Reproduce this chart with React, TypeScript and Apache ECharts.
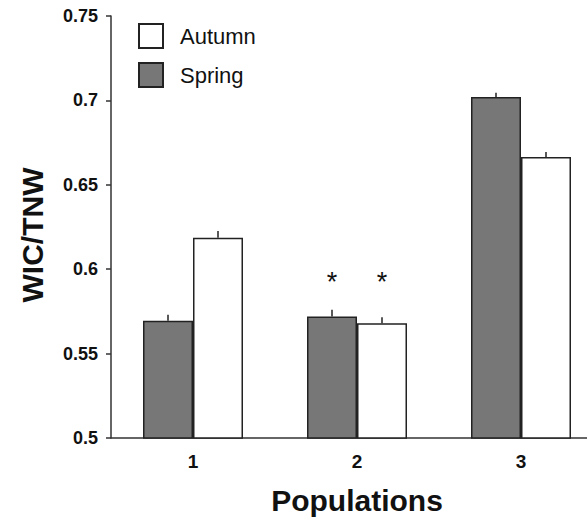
import React, { useEffect, useRef } from "react";
import * as echarts from "echarts";

const categories = ["1", "2", "3"];
const springValues = [0.5695, 0.572, 0.702];
const autumnValues = [0.6186, 0.568, 0.6665];
const springErrors = [0.0035, 0.004, 0.0025];
const autumnErrors = [0.004, 0.0035, 0.003];
const springMarks = ["", "*", ""];
const autumnMarks = ["", "*", ""];
const markLevel = 0.5945;
const yTicks = { min: 0.5, max: 0.75, interval: 0.05 };

const FONT = "'Liberation Sans', Arial, Helvetica, sans-serif";
const BAR_W = 50;

export default function App() {
  const ref = useRef<HTMLDivElement>(null);
  useEffect(() => {
    if (!ref.current) return;
    const chart = echarts.init(ref.current, undefined, { renderer: "svg" });

    const errRender = (vals: number[], errs: number[], marks: string[], offset: number) =>
      (params: any, api: any) => {
        const i = api.value(0);
        const top = api.coord([i, vals[i] + errs[i]]);
        const base = api.coord([i, vals[i]]);
        const x = top[0] + offset;
        const children: any[] = [
          {
            type: "line",
            shape: { x1: x, y1: base[1], x2: x, y2: top[1] },
            style: { stroke: "#222", lineWidth: 1.5 },
          },
        ];
        if (marks[i]) {
          const mp = api.coord([i, markLevel]);
          children.push({
            type: "text",
            x: x,
            y: mp[1] + 4,
            style: {
              text: marks[i],
              fontSize: 27,
              fontFamily: FONT,
              fill: "#111",
              align: "center",
              verticalAlign: "middle",
            },
          });
        }
        return { type: "group", children };
      };

    chart.setOption({
      animation: false,
      grid: { left: 111, top: 16, bottom: 76, right: 0, containLabel: false },
      legend: {
        data: ["Autumn", "Spring"],
        orient: "vertical",
        left: 138,
        top: 23,
        padding: 0,
        itemWidth: 24,
        itemHeight: 24,
        itemGap: 13,
        icon: "rect",
        textStyle: { fontSize: 22, fontFamily: FONT, color: "#111", padding: [0, 0, 0, 12] },
      },
      xAxis: {
        type: "category",
        data: categories,
        name: "Populations",
        nameLocation: "middle",
        nameGap: 47,
        nameTextStyle: { fontSize: 30, fontWeight: "bold", fontFamily: FONT, color: "#111" },
        axisLine: { lineStyle: { color: "#333", width: 1.5 } },
        axisTick: { show: false },
        axisLabel: { fontSize: 19, fontWeight: "bold", fontFamily: FONT, color: "#111", margin: 14 },
      },
      yAxis: {
        type: "value",
        min: yTicks.min,
        max: yTicks.max,
        interval: yTicks.interval,
        name: "WIC/TNW",
        nameLocation: "middle",
        nameGap: 64,
        nameTextStyle: {
          fontSize: 30,
          fontWeight: "bold",
          fontFamily: FONT,
          color: "#111",
          padding: [0, 16, 0, 0],
        },
        splitLine: { show: false },
        axisLine: { show: true, lineStyle: { color: "#333", width: 1.5 } },
        axisTick: { show: true, length: 5, lineStyle: { color: "#333", width: 1.5 } },
        axisLabel: {
          fontSize: 18,
          fontWeight: "bold",
          fontFamily: FONT,
          color: "#111",
          margin: 13,
          formatter: (v: number) => String(Number(v.toFixed(2))),
        },
      },
      series: [
        {
          name: "Spring",
          type: "bar",
          data: springValues,
          barWidth: BAR_W,
          barGap: "0%",
          itemStyle: { color: "#777777", borderColor: "#222", borderWidth: 1.5 },
        },
        {
          name: "Autumn",
          type: "bar",
          data: autumnValues,
          barWidth: BAR_W,
          barGap: "0%",
          itemStyle: { color: "#ffffff", borderColor: "#222", borderWidth: 1.5 },
        },
        {
          type: "custom",
          data: categories.map((_, i) => [i]),
          renderItem: errRender(springValues, springErrors, springMarks, -BAR_W / 2),
          z: 5,
          silent: true,
        },
        {
          type: "custom",
          data: categories.map((_, i) => [i]),
          renderItem: errRender(autumnValues, autumnErrors, autumnMarks, BAR_W / 2),
          z: 5,
          silent: true,
        },
      ],
    });
    return () => chart.dispose();
  }, []);
  return (
    <div
      style={{
        position: "absolute",
        left: 0,
        top: 0,
        width: 587,
        height: 520,
        overflow: "hidden",
        background: "#fff",
      }}
    >
      <div ref={ref} style={{ width: 603, height: 520 }} />
    </div>
  );
}
